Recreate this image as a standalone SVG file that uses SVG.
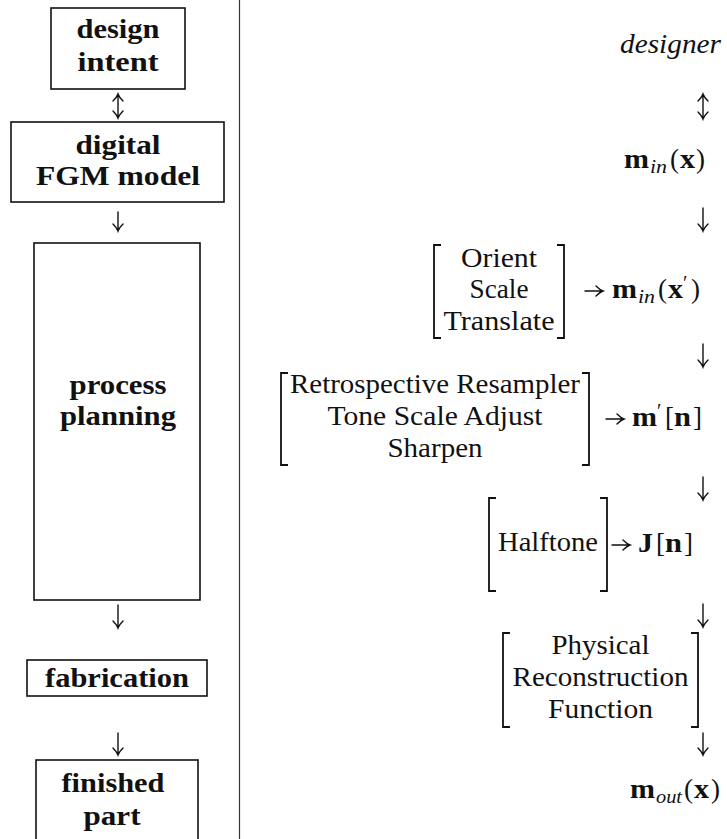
<svg xmlns="http://www.w3.org/2000/svg" width="727" height="839" viewBox="0 0 727 839">
  <style>
    .box { fill: none; stroke: #111; stroke-width: 1.6; }
    .sep { stroke: #333; stroke-width: 1.2; }
    .arr { fill: none; stroke: #111; stroke-width: 1.4; stroke-linecap: round; }
    .brk { fill: none; stroke: #111; stroke-width: 1.8; }
    .bf { font-family: "Liberation Serif", "Times New Roman", serif; font-weight: bold; font-size: 27px; fill: #111; text-anchor: middle; }
    .rm { font-family: "Liberation Serif", "Times New Roman", serif; font-size: 27px; fill: #111; }
    .c { text-anchor: middle; }
    .it { font-style: italic; }
    .b { font-weight: bold; }
    .sub { font-family: "Liberation Serif", "Times New Roman", serif; font-style: italic; font-size: 19px; fill: #111; }
    .pr { font-family: "Liberation Serif", "Times New Roman", serif; font-size: 20px; fill: #111; }
  </style>

  <!-- divider between the two columns -->
  <line class="sep" x1="239.5" y1="0" x2="239.5" y2="839"/>

  <!-- left column: fabrication workflow -->
  <g id="design-intent">
    <rect class="box" x="51" y="8" width="134" height="81"/>
    <text class="bf" x="118" y="38" textLength="83" lengthAdjust="spacingAndGlyphs">design</text>
    <text class="bf" x="118" y="71" textLength="81" lengthAdjust="spacingAndGlyphs">intent</text>
  </g>
  <g id="digital-model">
    <rect class="box" x="11" y="122" width="213" height="80"/>
    <text class="bf" x="118" y="154" textLength="85" lengthAdjust="spacingAndGlyphs">digital</text>
    <text class="bf" x="118" y="185" textLength="164" lengthAdjust="spacingAndGlyphs">FGM model</text>
  </g>
  <g id="process-planning">
    <rect class="box" x="34" y="243" width="166" height="357"/>
    <text class="bf" x="118" y="394" textLength="97" lengthAdjust="spacingAndGlyphs">process</text>
    <text class="bf" x="118" y="425" textLength="116" lengthAdjust="spacingAndGlyphs">planning</text>
  </g>
  <g id="fabrication">
    <rect class="box" x="27" y="660" width="180" height="36"/>
    <text class="bf" x="117" y="687" textLength="144" lengthAdjust="spacingAndGlyphs">fabrication</text>
  </g>
  <g id="finished-part">
    <rect class="box" x="36" y="760" width="162" height="90"/>
    <text class="bf" x="113" y="792" textLength="103" lengthAdjust="spacingAndGlyphs">finished</text>
    <text class="bf" x="112" y="825" textLength="57" lengthAdjust="spacingAndGlyphs">part</text>
  </g>

  <!-- right column: signal chain -->
  <g id="designer">
    <text class="rm it" x="620" y="53" textLength="101" lengthAdjust="spacingAndGlyphs">designer</text>
  </g>
  <g id="m-in-x">
    <text class="rm b" x="624" y="168" textLength="25" lengthAdjust="spacingAndGlyphs">m</text>
    <text class="sub" x="650" y="173" textLength="17" lengthAdjust="spacingAndGlyphs">in</text>
    <text class="rm" x="670" y="168">(</text>
    <text class="rm b" x="680" y="168" textLength="15" lengthAdjust="spacingAndGlyphs">x</text>
    <text class="rm" x="696" y="168">)</text>
  </g>
  <g id="orient-scale-translate">
    <path class="brk" d="M441,245 H434 V338 H441"/>
    <path class="brk" d="M557,245 H564 V338 H557"/>
    <text class="rm c" x="499" y="267" textLength="76" lengthAdjust="spacingAndGlyphs">Orient</text>
    <text class="rm c" x="499" y="298" textLength="59" lengthAdjust="spacingAndGlyphs">Scale</text>
    <text class="rm c" x="499" y="330" textLength="111" lengthAdjust="spacingAndGlyphs">Translate</text>
  </g>
  <g id="m-in-x-prime">
    <text class="rm b" x="612" y="298" textLength="25" lengthAdjust="spacingAndGlyphs">m</text>
    <text class="sub" x="638" y="303" textLength="17" lengthAdjust="spacingAndGlyphs">in</text>
    <text class="rm" x="658" y="298">(</text>
    <text class="rm b" x="668" y="298" textLength="15" lengthAdjust="spacingAndGlyphs">x</text>
    <text class="pr" x="683" y="290">′</text>
    <text class="rm" x="691" y="298">)</text>
  </g>
  <g id="resample-tone-sharpen">
    <path class="brk" d="M288,373 H281 V465 H288"/>
    <path class="brk" d="M582,373 H589 V465 H582"/>
    <text class="rm c" x="435" y="393" textLength="290" lengthAdjust="spacingAndGlyphs">Retrospective Resampler</text>
    <text class="rm c" x="435" y="425" textLength="215" lengthAdjust="spacingAndGlyphs">Tone Scale Adjust</text>
    <text class="rm c" x="435" y="457" textLength="95" lengthAdjust="spacingAndGlyphs">Sharpen</text>
  </g>
  <g id="m-prime-n">
    <text class="rm b" x="632" y="426" textLength="25" lengthAdjust="spacingAndGlyphs">m</text>
    <text class="pr" x="657" y="418">′</text>
    <text class="rm" x="665" y="426">[</text>
    <text class="rm b" x="674" y="426" textLength="17" lengthAdjust="spacingAndGlyphs">n</text>
    <text class="rm" x="693" y="426">]</text>
  </g>
  <g id="halftone">
    <path class="brk" d="M496,498 H489 V591 H496"/>
    <path class="brk" d="M600,498 H607 V591 H600"/>
    <text class="rm c" x="548" y="551" textLength="100" lengthAdjust="spacingAndGlyphs">Halftone</text>
  </g>
  <g id="j-n">
    <text class="rm b" x="638" y="552" textLength="15" lengthAdjust="spacingAndGlyphs">J</text>
    <text class="rm" x="656" y="552">[</text>
    <text class="rm b" x="665" y="552" textLength="17" lengthAdjust="spacingAndGlyphs">n</text>
    <text class="rm" x="684" y="552">]</text>
  </g>
  <g id="physical-reconstruction">
    <path class="brk" d="M510,633 H503 V727 H510"/>
    <path class="brk" d="M691,633 H698 V727 H691"/>
    <text class="rm c" x="600.5" y="654" textLength="98" lengthAdjust="spacingAndGlyphs">Physical</text>
    <text class="rm c" x="600.5" y="686" textLength="176" lengthAdjust="spacingAndGlyphs">Reconstruction</text>
    <text class="rm c" x="600.5" y="718" textLength="105" lengthAdjust="spacingAndGlyphs">Function</text>
  </g>
  <g id="m-out-x">
    <text class="rm b" x="630" y="798" textLength="25" lengthAdjust="spacingAndGlyphs">m</text>
    <text class="sub" x="656" y="803" textLength="26" lengthAdjust="spacingAndGlyphs">out</text>
    <text class="rm" x="684" y="798">(</text>
    <text class="rm b" x="694" y="798" textLength="15" lengthAdjust="spacingAndGlyphs">x</text>
    <text class="rm" x="711" y="798">)</text>
  </g>

  <!-- connectors -->
  <g id="connectors">
    <!-- left column -->
    <path class="arr" d="M118,94 V118 M113,101 Q117,97 118,94 Q119,97 123,101 M113,111 Q117,115 118,118 Q119,115 123,111"/>
    <path class="arr" d="M118,212 V231 M113,224 Q117,228 118,231 Q119,228 123,224"/>
    <path class="arr" d="M118,605 V628 M113,621 Q117,625 118,628 Q119,625 123,621"/>
    <path class="arr" d="M118,733 V755 M113,748 Q117,752 118,755 Q119,752 123,748"/>
    <!-- right column, vertical -->
    <path class="arr" d="M703,94 V119 M698,101 Q702,97 703,94 Q704,97 708,101 M698,112 Q702,116 703,119 Q704,116 708,112"/>
    <path class="arr" d="M703,208 V231 M698,224 Q702,228 703,231 Q704,228 708,224"/>
    <path class="arr" d="M703,344 V367 M698,360 Q702,364 703,367 Q704,364 708,360"/>
    <path class="arr" d="M703,477 V500 M698,493 Q702,497 703,500 Q704,497 708,493"/>
    <path class="arr" d="M703,604 V627 M698,620 Q702,624 703,627 Q704,624 708,620"/>
    <path class="arr" d="M703,733 V755 M698,748 Q702,752 703,755 Q704,752 708,748"/>
    <!-- right column, horizontal -->
    <path class="arr" d="M585,291 H603 M596,286 Q600,290 603,291 Q600,292 596,296"/>
    <path class="arr" d="M606,419 H624 M617,414 Q621,418 624,419 Q621,420 617,424"/>
    <path class="arr" d="M612,545 H630 M623,540 Q627,544 630,545 Q627,546 623,550"/>
  </g>
</svg>
